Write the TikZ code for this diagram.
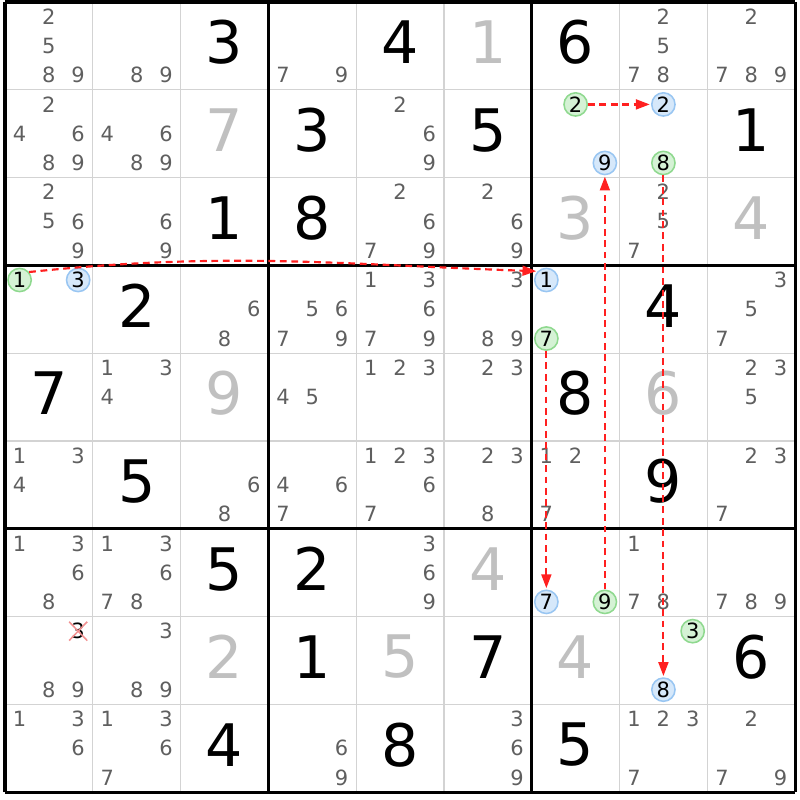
\documentclass[tikz,border=0pt]{standalone}
\usepackage{fontspec}
\setmainfont{DejaVu Sans}
\usetikzlibrary{arrows.meta}
\definecolor{candgray}{HTML}{5F5F5F}
\definecolor{solvedgray}{HTML}{C0C0C0}
\definecolor{thingray}{HTML}{D3D3D3}
\definecolor{greenfill}{HTML}{D5F2D5}
\definecolor{greenline}{HTML}{8FD98F}
\definecolor{bluefill}{HTML}{D6E8FA}
\definecolor{blueline}{HTML}{99C6F2}
\definecolor{linkred}{HTML}{FF2020}
\definecolor{crossred}{HTML}{F29090}
\tikzstyle{given}=[font=\fontsize{19}{19}\selectfont, text=black, inner sep=0pt, yshift=0.04cm]
\tikzstyle{solved}=[given, text=solvedgray]
\tikzstyle{cand}=[font=\fontsize{6.8}{7}\selectfont, text=candgray, inner sep=0pt]
\tikzstyle{candgreen}=[cand, text=black, circle, draw=greenline, fill=greenfill, line width=0.5pt, minimum size=0.265cm]
\tikzstyle{candblue}=[cand, text=black, circle, draw=blueline, fill=bluefill, line width=0.5pt, minimum size=0.265cm]
\tikzstyle{link}=[draw=linkred, line width=0.7pt, dash pattern=on 2.2pt off 1.5pt, -{Triangle[length=4.5pt,width=3.2pt]}, shorten >=0.4pt]
\tikzstyle{struck}=[draw=crossred, line width=0.5pt]
% row, column, digits
\newcommand{\cands}[3]{%
  \foreach \k in {#3}{%
    \node[cand] (n#1#2\k) at ({#2+(2*mod(\k-1,3)+1)/6},{9-#1-(2*int((\k-1)/3)+1)/6}) {\k};
  }}
% style, row, column, digit
\newcommand{\chaincand}[4]{%
  \node[#1] (n#2#3#4) at ({#3+(2*mod(#4-1,3)+1)/6},{9-#2-(2*int((#4-1)/3)+1)/6}) {#4};}
\newcommand{\givendigit}[3]{\node[given] (g#1#2) at (#2+0.5,8.5-#1) {#3};}
\newcommand{\solveddigit}[3]{\node[solved] (g#1#2) at (#2+0.5,8.5-#1) {#3};}

\begin{document}
\begin{tikzpicture}
	\useasboundingbox[fill=white] (-0.057,-0.09) rectangle (9.055,9.023);
	\begin{scope}
		\draw[thingray, line width=0.4pt] (0,0) grid (9,9);
		\draw[black, line width=1pt, step=3] (0,0) grid (9,9);
	\end{scope}
	\begin{scope}
		% givens
		\givendigit{0}{2}{3} \givendigit{0}{4}{4} \givendigit{0}{6}{6}
		\givendigit{1}{3}{3} \givendigit{1}{5}{5} \givendigit{1}{8}{1}
		\givendigit{2}{2}{1} \givendigit{2}{3}{8}
		\givendigit{3}{1}{2} \givendigit{3}{7}{4}
		\givendigit{4}{0}{7} \givendigit{4}{6}{8}
		\givendigit{5}{1}{5} \givendigit{5}{7}{9}
		\givendigit{6}{2}{5} \givendigit{6}{3}{2}
		\givendigit{7}{3}{1} \givendigit{7}{5}{7} \givendigit{7}{8}{6}
		\givendigit{8}{2}{4} \givendigit{8}{4}{8} \givendigit{8}{6}{5}
		% solved
		\solveddigit{0}{5}{1} \solveddigit{1}{2}{7}
		\solveddigit{2}{6}{3} \solveddigit{2}{8}{4}
		\solveddigit{4}{2}{9} \solveddigit{4}{7}{6}
		\solveddigit{6}{5}{4}
		\solveddigit{7}{2}{2} \solveddigit{7}{4}{5} \solveddigit{7}{6}{4}
	\end{scope}
	\begin{scope}
		\cands{0}{0}{2,5,8,9} \cands{0}{1}{8,9} \cands{0}{3}{7,9}
		\cands{0}{7}{2,5,7,8} \cands{0}{8}{2,7,8,9}
		\cands{1}{0}{2,4,6,8,9} \cands{1}{1}{4,6,8,9} \cands{1}{4}{2,6,9}
		\cands{2}{0}{2,5,6,9} \cands{2}{1}{6,9} \cands{2}{4}{2,6,7,9}
		\cands{2}{5}{2,6,9} \cands{2}{7}{2,5,7}
		\cands{3}{2}{6,8} \cands{3}{3}{5,6,7,9} \cands{3}{4}{1,3,6,7,9}
		\cands{3}{5}{3,8,9} \cands{3}{8}{3,5,7}
		\cands{4}{1}{1,3,4} \cands{4}{3}{4,5} \cands{4}{4}{1,2,3}
		\cands{4}{5}{2,3} \cands{4}{8}{2,3,5}
		\cands{5}{0}{1,3,4} \cands{5}{2}{6,8} \cands{5}{3}{4,6,7}
		\cands{5}{4}{1,2,3,6,7} \cands{5}{5}{2,3,8} \cands{5}{6}{1,2,7}
		\cands{5}{8}{2,3,7}
		\cands{6}{0}{1,3,6,8} \cands{6}{1}{1,3,6,7,8} \cands{6}{4}{3,6,9}
		\cands{6}{7}{1,7,8} \cands{6}{8}{7,8,9}
		\cands{7}{0}{8,9} \cands{7}{1}{3,8,9}
		\cands{8}{0}{1,3,6} \cands{8}{1}{1,3,6,7} \cands{8}{3}{6,9}
		\cands{8}{5}{3,6,9} \cands{8}{7}{1,2,3,7} \cands{8}{8}{2,7,9}

		% eliminated candidate
		\node[cand, text=black] (n703) at ({5/6},{2-1/6}) {3};
		\draw[struck] ([shift={(-0.02,0.01)}]n703.north west) -- ([shift={(0.02,-0.01)}]n703.south east);
		\draw[struck] ([shift={(0.02,0.01)}]n703.north east) -- ([shift={(-0.02,-0.01)}]n703.south west);
	\end{scope}
	\begin{scope}
		\chaincand{candgreen}{1}{6}{2} \chaincand{candblue}{1}{6}{9}
		\chaincand{candblue}{1}{7}{2} \chaincand{candgreen}{1}{7}{8}
		\chaincand{candgreen}{3}{0}{1} \chaincand{candblue}{3}{0}{3}
		\chaincand{candblue}{3}{6}{1} \chaincand{candgreen}{3}{6}{7}
		\chaincand{candblue}{6}{6}{7} \chaincand{candgreen}{6}{6}{9}
		\chaincand{candgreen}{7}{7}{3} \chaincand{candblue}{7}{7}{8}
	\end{scope}
	\begin{scope}
		\path[link] (n301.40) to[out=6,in=178] (n361.135);
		\path[link] (n162) -- (n172);
		\path[link] (n178) -- (n778);
		\path[link] (n669) -- (n169);
		\path[link] (n367) -- (n667);
	\end{scope}
\end{tikzpicture}
\end{document}
